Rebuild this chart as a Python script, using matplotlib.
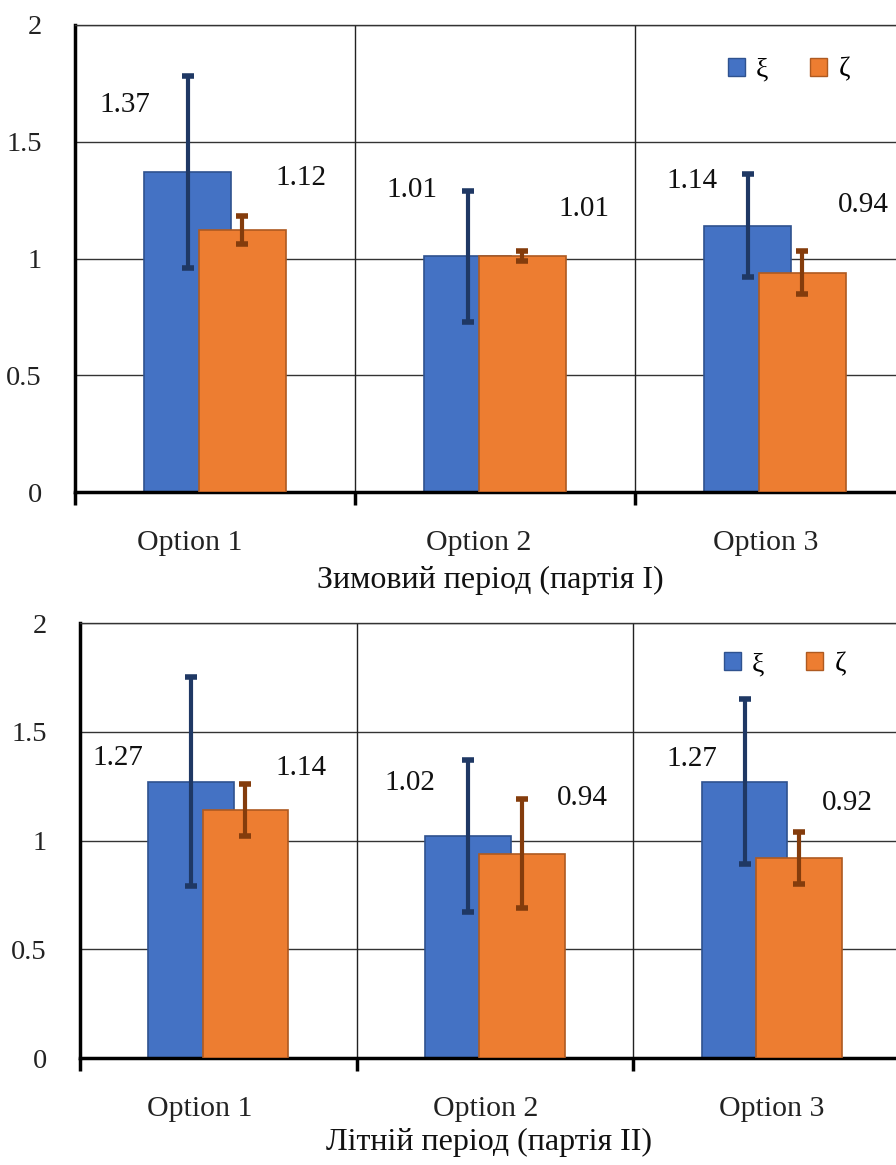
import matplotlib.pyplot as plt
from matplotlib.patches import Patch
import numpy as np

plt.rcParams['font.family'] = ['Liberation Serif', 'DejaVu Serif']

options = ["Option 1", "Option 2", "Option 3"]
series_names = ["ξ", "ζ"]

# winter period (batch I)
winter_xi = [1.37, 1.01, 1.14]
winter_zeta = [1.12, 1.01, 0.94]
winter_xi_err = [0.41, 0.28, 0.22]
winter_zeta_err = [0.06, 0.02, 0.09]

# summer period (batch II)
summer_xi = [1.27, 1.02, 1.27]
summer_zeta = [1.14, 0.94, 0.92]
summer_xi_err = [0.48, 0.35, 0.38]
summer_zeta_err = [0.12, 0.25, 0.12]

titles = ["Зимовий період (партія I)", "Літній період (партія II)"]

# label offsets in pixels (dx, dy) from the top of each bar, as placed in the original
winter_offsets = [[(-63, 67), (-56, 66), (-56, 45)], [(58, 52), (61, 47), (61, 68)]]
summer_offsets = [[(-73, 24), (-58, 53), (-53, 23)], [(56, 42), (60, 56), (49, 55)]]
# category names sit a bit left of the category centre in the original
winter_name_pos = [-0.089, 0.943, 1.968]
summer_name_pos = [-0.066, 0.967, 2.0]

blue, blue_edge, blue_err = "#4472C4", "#2F528F", "#1F3864"
orange, orange_edge, orange_err = "#ED7D31", "#AE5A21", "#843C0C"

fig = plt.figure(figsize=(8.96, 11.65), dpi=100)
ax_top = fig.add_axes([75 / 896, 1 - 492 / 1165, 840 / 896, 467 / 1165])
ax_bot = fig.add_axes([80 / 896, 1 - 1058 / 1165, 830 / 896, 435 / 1165])

panels = [
    (ax_top, winter_xi, winter_zeta, winter_xi_err, winter_zeta_err, winter_offsets, winter_name_pos, titles[0], 0.85),
    (ax_bot, summer_xi, summer_zeta, summer_xi_err, summer_zeta_err, summer_offsets, summer_name_pos, titles[1], 0.849),
]

x = np.arange(len(options))
width = 0.31
shift = 0.098

for ax, xi, zeta, xi_err, zeta_err, offsets, name_pos, title, leg_x in panels:
    ax.set_axisbelow(True)
    b1 = ax.bar(x - shift, xi, width, color=blue, edgecolor=blue_edge, linewidth=1.2, zorder=2)
    b2 = ax.bar(x + shift, zeta, width, color=orange, edgecolor=orange_edge, linewidth=1.2, zorder=3)
    ax.errorbar(x - shift, xi, yerr=xi_err, fmt="none", ecolor=blue_err,
                elinewidth=3, capsize=4, capthick=4, zorder=4)
    ax.errorbar(x + shift, zeta, yerr=zeta_err, fmt="none", ecolor=orange_err,
                elinewidth=3, capsize=4, capthick=4, zorder=5)

    for bars, vals, offs in [(b1, xi, offsets[0]), (b2, zeta, offsets[1])]:
        for bar, v, (dx, dy) in zip(bars, vals, offs):
            ax.annotate(f"{v:.2f}", (bar.get_x() + bar.get_width() / 2, v),
                        xytext=(dx, dy), textcoords="offset pixels",
                        ha="center", va="center", fontsize=21, color="#111111")

    ax.set_xlim(-0.5, 2.5)
    ax.set_ylim(0, 2)
    ax.set_yticks([0, 0.5, 1, 1.5, 2])
    ax.set_yticklabels(["0", "0.5", "1", "1.5", "2"])
    ax.yaxis.grid(True, color="#333333", linewidth=1)
    ax.tick_params(axis="y", length=0, pad=24, labelsize=20.5, labelcolor="#222222")

    # category boundaries as major ticks, names as minor ticks
    ax.set_xticks([-0.5, 0.5, 1.5])
    ax.set_xticklabels([])
    ax.set_xticks(name_pos, minor=True)
    ax.set_xticklabels(options, minor=True)
    ax.tick_params(axis="x", which="major", length=9, width=2.5, color="black")
    ax.tick_params(axis="x", which="minor", length=0, pad=27, labelsize=21.5, labelcolor="#222222")
    for b in [0.5, 1.5]:
        ax.axvline(b, color="#222222", linewidth=1, zorder=1)

    ax.spines["right"].set_visible(False)
    ax.spines["top"].set_color("#333333")
    ax.spines["top"].set_linewidth(1)
    ax.spines["left"].set_linewidth(2.5)
    ax.spines["bottom"].set_linewidth(2.5)

    ax.set_xlabel(title, fontsize=23, color="#111111")
    ax.xaxis.label.set_va("center")

    handles = [Patch(facecolor=blue, edgecolor=blue_edge), Patch(facecolor=orange, edgecolor=orange_edge)]
    ax.legend(handles, series_names, loc="center", bbox_to_anchor=(leg_x, 0.904), ncol=2,
              frameon=False, fontsize=20, handlelength=0.62, handleheight=0.62,
              handletextpad=0.4, columnspacing=1.5)

# place the panel titles below the category names
ax_top.xaxis.set_label_coords((490 - 75) / 840, -(580 - 492) / 467)
ax_bot.xaxis.set_label_coords((489 - 80) / 830, -(1142 - 1058) / 435)

fig.savefig("out.png", dpi=100)
